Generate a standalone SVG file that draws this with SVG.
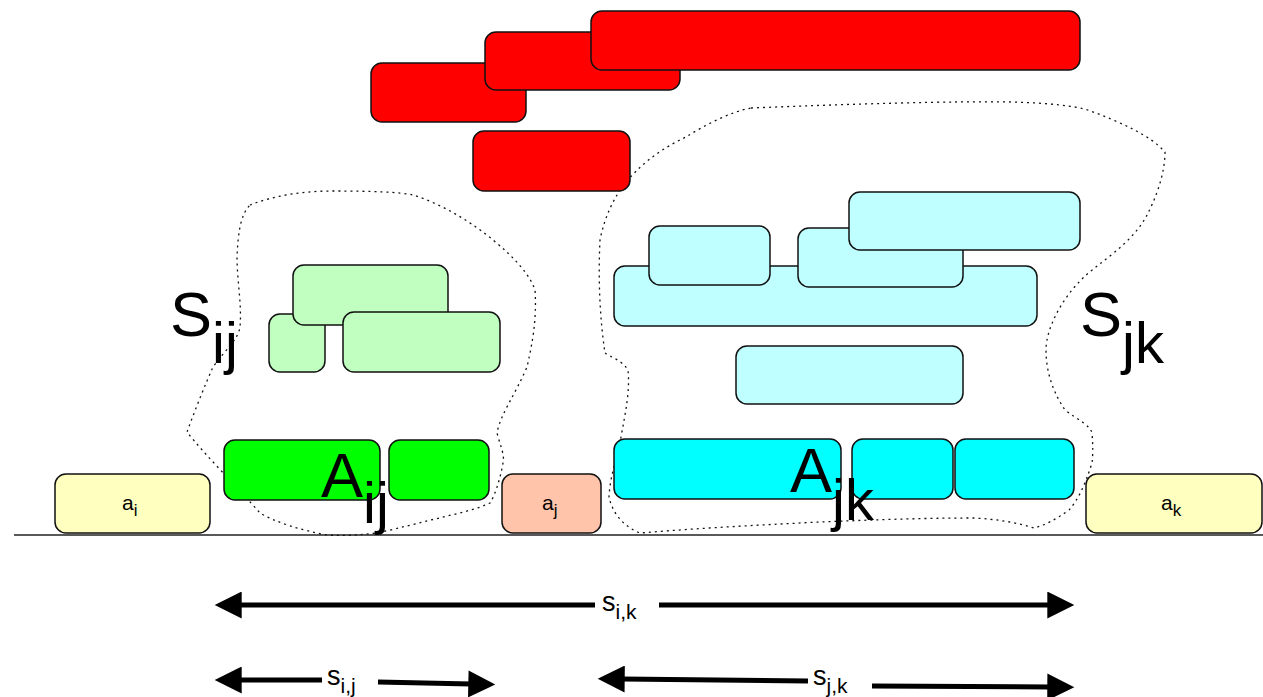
<svg xmlns="http://www.w3.org/2000/svg" width="1263" height="697" viewBox="0 0 1263 697">
<defs>
<style>
.b{stroke:#111;stroke-width:1.5}
.red{fill:#FF0000}.lg{fill:#C0FFC0}.g{fill:#00FF00}.lc{fill:#C0FFFF}.c{fill:#00FFFF}.y{fill:#FFFFC0}.s{fill:#FFC4AA}
.blob{fill:none;stroke:#111;stroke-width:1.3;stroke-dasharray:2 4}
.big{font-family:"Liberation Sans",Arial,sans-serif;font-size:63px;fill:#000}
.sub{font-size:58px}
.sm{font-family:"Liberation Sans",Arial,sans-serif;font-size:21px;fill:#000}
.smsub{font-size:17px}
.ar{font-family:"Liberation Sans",Arial,sans-serif;font-size:27px;fill:#000}
.arsub{font-size:21px}
.ln{stroke:#000;stroke-width:5;fill:none}
</style>
<marker id="ah" viewBox="0 0 10 10" refX="1" refY="5" markerWidth="6" markerHeight="5.4" markerUnits="strokeWidth" orient="auto-start-reverse">
<path d="M0,0 L10,5 L0,10 z" fill="#000"/>
</marker>
</defs>

<line x1="14" y1="535" x2="1263" y2="535" stroke="#222" stroke-width="1.5"/>

<g id="blob-sij"><path class="blob" d="M250,205 C275,195 305,191 333,191 C370,191 400,192 413,195 C445,205 475,225 493,240 C515,258 530,275 535,290 C537,320 532,345 527,367 C515,395 500,415 497,433 C500,445 505,455 503,463 C500,480 495,495 490,503 C480,508 470,510 460,513 C430,520 400,528 377,533 C360,535 345,536 327,535 C300,530 275,522 260,513 C240,490 205,455 187,432 C195,410 205,385 213,367 C225,350 238,340 240,327 C242,305 237,280 237,257 C238,235 240,215 250,205 Z"/></g>
<g id="blob-sjk"><path class="blob" d="M751,108 C850,104 950,101 1011,102 C1050,103 1075,106 1088,110 C1120,122 1150,135 1165,152 C1165,175 1155,200 1146,217 C1130,245 1100,262 1084,277 C1060,300 1046,330 1046,350 C1046,375 1055,395 1065,410 C1078,420 1090,425 1092,433 C1093,445 1093,455 1092,463 C1085,485 1078,500 1069,510 C1055,520 1045,525 1034,528 C1015,522 995,519 973,518 C920,518 870,520 820,522 C760,525 700,528 640,533 C620,525 612,510 609,497 C610,475 618,455 621,437 C626,410 630,390 628,370 C622,360 610,357 605,353 C600,320 598,280 600,240 C605,215 615,195 628,180 C645,160 665,147 686,137 C705,125 730,112 751,108 Z"/></g>

<g id="red-1"><rect class="b red" x="371" y="63" width="155" height="59" rx="11"/></g>
<g id="red-2"><rect class="b red" x="485" y="32" width="195" height="58" rx="11"/></g>
<g id="red-3"><rect class="b red" x="591" y="11" width="489" height="59" rx="11"/></g>
<g id="red-4"><rect class="b red" x="473" y="131" width="157" height="60" rx="11"/></g>

<g id="lg-2"><rect class="b lg" x="269" y="314" width="56" height="58" rx="11"/></g>
<g id="lg-1"><rect class="b lg" x="293" y="265" width="155" height="60" rx="11"/></g>
<g id="lg-3"><rect class="b lg" x="343" y="312" width="157" height="60" rx="11"/></g>

<g id="g-1"><rect class="b g" x="224" y="440" width="156" height="60" rx="11"/></g>
<g id="g-2"><rect class="b g" x="389" y="440" width="100" height="60" rx="11"/></g>

<g id="lc-1"><rect class="b lc" x="614" y="266" width="423" height="60" rx="11"/></g>
<g id="lc-2"><rect class="b lc" x="649" y="226" width="121" height="59" rx="11"/></g>
<g id="lc-3"><rect class="b lc" x="798" y="228" width="165" height="59" rx="11"/></g>
<g id="lc-4"><rect class="b lc" x="849" y="192" width="231" height="58" rx="11"/></g>
<g id="lc-5"><rect class="b lc" x="736" y="346" width="227" height="58" rx="11"/></g>

<g id="c-1"><rect class="b c" x="614" y="439" width="227" height="60" rx="11"/></g>
<g id="c-2"><rect class="b c" x="852" y="439" width="101" height="60" rx="11"/></g>
<g id="c-3"><rect class="b c" x="955" y="439" width="119" height="60" rx="11"/></g>

<g id="a-i"><rect class="b y" x="55" y="474" width="155" height="59" rx="11"/><text class="sm" x="122" y="510">a<tspan class="smsub" dy="6">i</tspan></text></g>
<g id="a-j"><rect class="b s" x="502" y="474" width="99" height="59" rx="11"/><text class="sm" x="542" y="510">a<tspan class="smsub" dy="6">j</tspan></text></g>
<g id="a-k"><rect class="b y" x="1086" y="474" width="176" height="59" rx="11"/><text class="sm" x="1161" y="510">a<tspan class="smsub" dy="6">k</tspan></text></g>

<g id="label-sij"><text class="big" x="170" y="336">S<tspan class="sub" dy="27">ij</tspan></text></g>
<g id="label-sjk"><text class="big" x="1080" y="336">S<tspan class="sub" dy="27">jk</tspan></text></g>
<g id="label-aij"><text class="big" x="321" y="497">A<tspan class="sub" dy="26">ij</tspan></text></g>
<g id="label-ajk"><text class="big" x="790" y="492">A<tspan class="sub" dy="28">jk</tspan></text></g>

<g id="connectors">
<line class="ln" x1="595" y1="605" x2="239" y2="605" marker-end="url(#ah)"/>
<line class="ln" x1="659" y1="605" x2="1050" y2="605" marker-end="url(#ah)"/>
<line class="ln" x1="322" y1="680" x2="239" y2="680" marker-end="url(#ah)"/>
<line class="ln" x1="378" y1="682" x2="471" y2="684" marker-end="url(#ah)"/>
<line class="ln" x1="808" y1="681" x2="622" y2="679" marker-end="url(#ah)"/>
<line class="ln" x1="872" y1="686" x2="1050" y2="687" marker-end="url(#ah)"/>
</g>
<text class="ar" x="602" y="611">s<tspan class="arsub" dy="8">i,k</tspan></text>
<text class="ar" x="327" y="685">s<tspan class="arsub" dy="8">i,j</tspan></text>
<text class="ar" x="813" y="685">s<tspan class="arsub" dy="8">j,k</tspan></text>
</svg>
